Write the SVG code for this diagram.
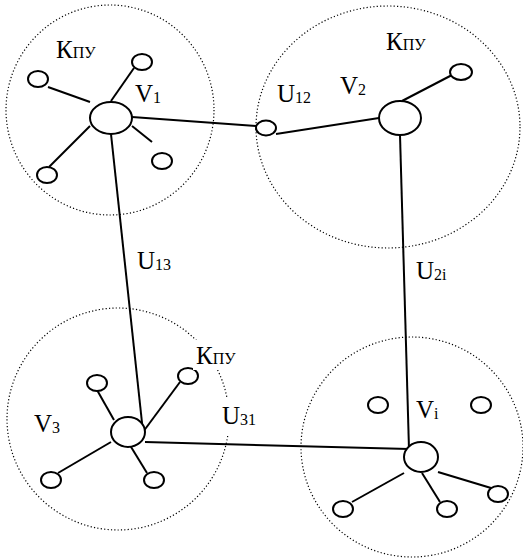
<svg xmlns="http://www.w3.org/2000/svg" width="523" height="560" viewBox="0 0 523 560">
<style>
.zone{fill:none;stroke:#000;stroke-width:1.2;stroke-dasharray:1.2 2.2}
.hub{fill:#fff;stroke:#000;stroke-width:2}
.leaf{fill:#fff;stroke:#000;stroke-width:2}
.ln{stroke:#000;stroke-width:2;fill:none}
.bg{fill:#fff}
text{font-family:"Liberation Serif","Times New Roman",serif;font-size:25px;fill:#000}
.s{font-size:16px}
</style>
<rect width="523" height="560" fill="#fff"/>
<g id="zones">
<ellipse class="zone" cx="110" cy="110" rx="104" ry="105"/>
<ellipse class="zone" cx="388" cy="127" rx="132" ry="121"/>
<ellipse class="zone" cx="118" cy="419" rx="111" ry="111"/>
<ellipse class="zone" cx="412" cy="447" rx="111" ry="110"/>
</g>
<g id="connectors">
<line class="ln" x1="132" y1="117" x2="256" y2="126"/>
<line class="ln" x1="276" y1="134" x2="379" y2="118"/>
<line class="ln" x1="111" y1="134" x2="143" y2="432"/>
<line class="ln" x1="400" y1="135" x2="409" y2="449"/>
<line class="ln" x1="145" y1="442" x2="409" y2="449"/>
</g>
<g id="cluster1">
<line class="ln" x1="48" y1="87" x2="90" y2="102"/>
<line class="ln" x1="111" y1="101" x2="134" y2="68"/>
<line class="ln" x1="49" y1="167" x2="90" y2="126"/>
<line class="ln" x1="132" y1="126" x2="152" y2="142"/>
<ellipse class="leaf" cx="38" cy="79" rx="10" ry="8"/>
<ellipse class="leaf" cx="142" cy="62" rx="10" ry="8"/>
<ellipse class="leaf" cx="47" cy="175" rx="10" ry="8"/>
<ellipse class="leaf" cx="162" cy="161" rx="10" ry="8"/>
</g>
<g id="V1">
<ellipse class="hub" cx="111" cy="118" rx="21" ry="16"/>
<text x="135" y="102">V<tspan class="s" dy="1">1</tspan></text>
<text x="56" y="58">К<tspan class="s">ПУ</tspan></text>
</g>
<g id="U12node">
<ellipse class="leaf" cx="266" cy="128" rx="10" ry="7.5"/>
<text x="277" y="102">U<tspan class="s" dy="1">12</tspan></text>
</g>
<g id="V2">
<line class="ln" x1="402" y1="101" x2="452" y2="75"/>
<ellipse class="leaf" cx="461" cy="72" rx="11" ry="8"/>
<ellipse class="hub" cx="400" cy="118" rx="21" ry="17"/>
<text x="340" y="94">V<tspan class="s" dy="1">2</tspan></text>
<text x="386" y="50">К<tspan class="s">ПУ</tspan></text>
</g>
<text id="U13" x="137" y="269">U<tspan class="s" dy="1">13</tspan></text>
<text id="U2i" x="416" y="279">U<tspan class="s" dy="1">2i</tspan></text>
<g id="V3">
<line class="ln" x1="97" y1="390" x2="114" y2="420"/>
<line class="ln" x1="143" y1="432" x2="180" y2="382"/>
<line class="ln" x1="58" y1="473" x2="111" y2="442"/>
<line class="ln" x1="128" y1="442" x2="147" y2="473"/>
<ellipse class="leaf" cx="97" cy="383" rx="10" ry="8"/>
<ellipse class="leaf" cx="188" cy="376" rx="10" ry="8"/>
<ellipse class="leaf" cx="51" cy="480" rx="10" ry="8"/>
<ellipse class="leaf" cx="154" cy="480" rx="10" ry="8"/>
<ellipse class="hub" cx="128" cy="432" rx="17" ry="15"/>
<text x="34" y="432">V<tspan class="s" dy="1">3</tspan></text>
<rect class="bg" x="193" y="340" width="46" height="30"/>
<text x="196" y="364">К<tspan class="s">ПУ</tspan></text>
<rect class="bg" x="219" y="398" width="40" height="38"/>
<text x="222" y="424">U<tspan class="s" dy="1">31</tspan></text>
</g>
<g id="Vi">
<line class="ln" x1="352" y1="502" x2="404" y2="473"/>
<line class="ln" x1="422" y1="473" x2="440" y2="502"/>
<line class="ln" x1="438" y1="472" x2="491" y2="488"/>
<ellipse class="leaf" cx="378" cy="405" rx="10" ry="8"/>
<ellipse class="leaf" cx="481" cy="405" rx="10" ry="8"/>
<ellipse class="leaf" cx="343" cy="509" rx="10" ry="8"/>
<ellipse class="leaf" cx="447" cy="509" rx="10" ry="8"/>
<ellipse class="leaf" cx="498" cy="494" rx="10" ry="8"/>
<ellipse class="hub" cx="421" cy="457" rx="17" ry="15"/>
<text x="416" y="418">V<tspan class="s" dy="1">i</tspan></text>
</g>
</svg>
